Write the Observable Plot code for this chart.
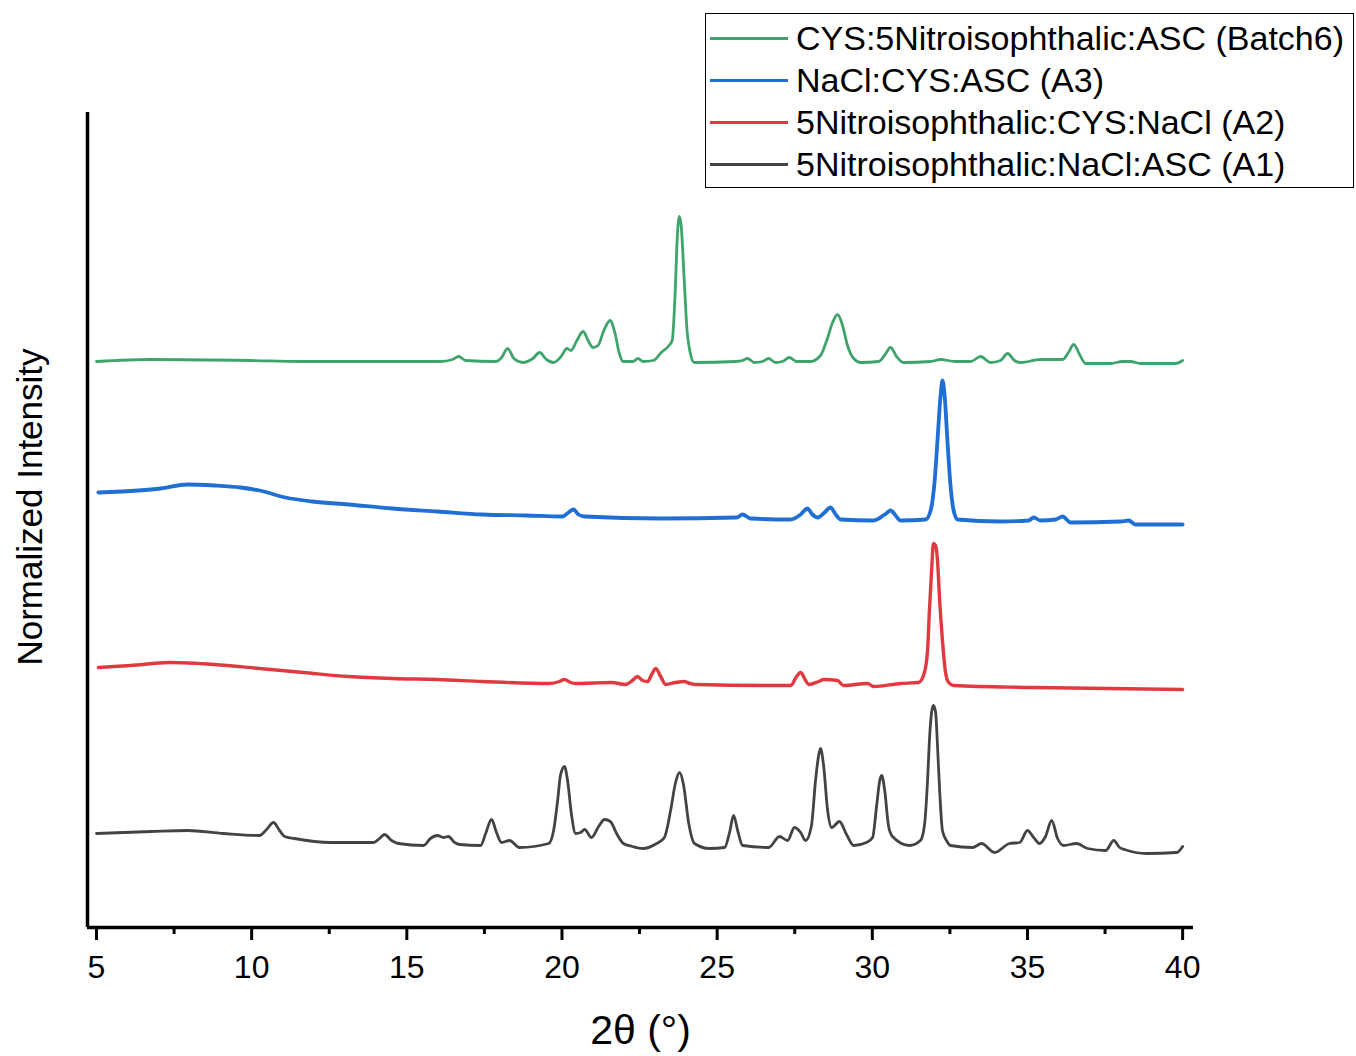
<!DOCTYPE html>
<html>
<head>
<meta charset="utf-8">
<script src="https://cdn.jsdelivr.net/npm/d3@7"></script>
<script src="https://cdn.jsdelivr.net/npm/@observablehq/plot@0.6"></script>
<style>
  html, body { margin: 0; padding: 0; background: #fff; }
  #wrap { position: relative; width: 1356px; height: 1056px; font-family: "Liberation Sans", Arial, sans-serif; }
  #legend { position: absolute; left: 705px; top: 13px; width: 649px; height: 175px; border: 1.5px solid #000; background: #fff; box-sizing: border-box; }
  .row { position: absolute; left: 4px; height: 42px; display: flex; align-items: center; }
  .sw { width: 78px; height: 0; border-top: 3px solid; margin-right: 8px; }
  .lab { font-size: 34px; color: #000; white-space: nowrap; }
</style>
</head>
<body>
<div id="wrap"><div id="chart"></div><div id="legend"></div></div>
<script>
// Series names (legend order, top to bottom)
const seriesNames = [
  "CYS:5Nitroisophthalic:ASC (Batch6)",
  "NaCl:CYS:ASC (A3)",
  "5Nitroisophthalic:CYS:NaCl (A2)",
  "5Nitroisophthalic:NaCl:ASC (A1)"
];
const seriesColors = ["#3fa46b", "#1f6fd4", "#e03a40", "#434343"];

// Stacked patterns: [2θ (°), intensity (a.u., offset included)]
const batch6 = [
  [5.0,566],[6.74,568],[9.96,567],[11.57,566],[16.09,566],[16.47,568],[16.67,571],[16.9,567],
  [17.87,566],[18.03,569],[18.25,579],[18.45,569],[18.74,565],[19.06,569],[19.28,575],[19.5,568],
  [19.73,565],[19.97,571],[20.16,579],[20.29,577],[20.48,587],[20.68,596],[20.84,587],[21.0,580],
  [21.16,582],[21.35,597],[21.55,607],[21.71,594],[21.84,575],[21.97,566],[22.29,566],[22.45,569],
  [22.61,566],[22.94,567],[23.2,575],[23.42,581],[23.55,587],[23.65,637],[23.71,687],[23.78,711],
  [23.84,702],[23.94,647],[24.03,597],[24.13,575],[24.26,565],[25.59,566],[25.82,567],[25.98,569],
  [26.2,565],[26.46,566],[26.66,569],[26.88,565],[27.1,566],[27.33,570],[27.56,566],[28.01,566],
  [28.33,572],[28.53,587],[28.72,605],[28.88,613],[29.04,602],[29.2,582],[29.4,569],[29.62,565],
  [30.2,566],[30.39,572],[30.59,580],[30.78,571],[31.0,565],[31.88,566],[32.2,568],[32.68,566],
  [33.17,566],[33.49,571],[33.81,565],[34.13,567],[34.36,574],[34.58,567],[34.78,565],[35.42,568],
  [36.13,568],[36.32,575],[36.49,583],[36.68,573],[36.87,564],[37.68,564],[38.06,566],[38.32,566],
  [38.64,564],[39.77,564],[40.0,567]
];
const a3 = [
  [5.06,435],[6.35,437],[7.06,439],[7.93,443],[8.8,442],[9.64,440],[10.25,437],[11.09,430],
  [11.96,426],[13.12,423],[14.54,419],[15.99,416],[17.44,413],[18.86,412],[20.02,411],[20.21,415],
  [20.37,418],[20.53,413],[20.73,411],[23.18,409],[25.63,410],[25.82,413],[26.08,409],[27.36,408],
  [27.69,413],[27.91,419],[28.07,413],[28.24,410],[28.46,415],[28.65,420],[28.82,413],[28.98,408],
  [30.04,407],[30.4,413],[30.59,417],[30.75,412],[30.91,407],[31.72,408],[31.88,417],[32.01,447],
  [32.1,487],[32.2,532],[32.26,547],[32.33,532],[32.42,487],[32.52,442],[32.62,417],[32.75,408],
  [34.13,406],[35.04,407],[35.2,410],[35.42,407],[35.91,408],[36.13,411],[36.39,405],[38.0,406],
  [38.26,407],[38.48,403],[40.0,403]
];
const a2 = [
  [5.06,260],[6.1,262],[7.35,265],[8.8,263],[10.25,259],[11.67,255],[13.12,251],[14.54,249],
  [15.99,248],[17.44,246],[19.6,244],[19.92,246],[20.08,248],[20.28,245],[20.44,244],[21.6,245],
  [22.05,243],[22.27,247],[22.43,251],[22.6,247],[22.76,246],[22.89,253],[23.02,259],[23.18,251],
  [23.34,243],[23.66,245],[23.92,246],[24.14,244],[24.34,243],[27.04,242],[27.37,242],[27.56,251],
  [27.69,255],[27.85,247],[27.95,243],[28.27,246],[28.43,248],[28.88,247],[29.07,242],[29.85,244],
  [30.04,241],[30.91,244],[31.49,245],[31.68,255],[31.78,277],[31.84,317],[31.91,357],[31.97,384],
  [32.04,382],[32.1,367],[32.17,327],[32.26,287],[32.36,255],[32.46,245],[32.62,242],[35.2,240],
  [40.0,238]
];
const a1 = [
  [5.0,94],[6.77,96],[7.93,97],[9.09,94],[10.25,92],[10.48,98],[10.7,105],[10.9,97],[11.06,91],
  [11.38,89],[12.54,85],[13.93,85],[14.12,89],[14.28,93],[14.51,87],[14.73,84],[15.54,82],[15.76,89],
  [15.99,92],[16.18,90],[16.34,91],[16.54,85],[16.7,83],[17.38,82],[17.54,94],[17.73,108],[17.89,95],
  [18.05,85],[18.31,87],[18.63,80],[19.57,84],[19.73,97],[19.86,127],[19.95,152],[20.08,161],
  [20.18,147],[20.31,112],[20.44,94],[20.6,95],[20.73,98],[20.95,90],[21.18,101],[21.37,108],
  [21.56,106],[21.76,94],[21.98,84],[22.27,81],[22.6,79],[23.05,84],[23.3,90],[23.5,117],[23.66,145],
  [23.79,155],[23.92,142],[24.08,105],[24.27,84],[24.75,79],[25.24,80],[25.4,95],[25.53,112],
  [25.66,97],[25.82,82],[26.66,80],[27.01,91],[27.27,87],[27.49,100],[27.69,95],[27.85,87],
  [28.04,102],[28.17,147],[28.27,172],[28.33,179],[28.43,162],[28.56,117],[28.69,100],[28.94,106],
  [29.17,93],[29.4,82],[29.81,85],[30.01,90],[30.14,122],[30.24,147],[30.3,152],[30.4,137],
  [30.52,102],[30.65,91],[31.2,82],[31.55,87],[31.68,102],[31.78,147],[31.84,187],[31.91,215],
  [31.97,222],[32.04,215],[32.1,182],[32.17,137],[32.26,97],[32.39,87],[32.52,82],[33.23,80],
  [33.52,84],[33.94,75],[34.42,84],[34.75,85],[35.0,97],[35.2,90],[35.39,84],[35.58,91],[35.78,107],
  [35.97,89],[36.16,82],[36.58,84],[36.94,79],[37.52,77],[37.78,87],[37.97,80],[38.13,78],
  [38.84,74],[39.81,75],[40.0,81]
];

const majorTicks = [5, 10, 15, 20, 25, 30, 35, 40];
const minorTicks = [7.5, 12.5, 17.5, 22.5, 27.5, 32.5, 37.5];
const xTitle = "2θ (°)";
const yTitle = "Normalized Intensity";

const patterns = [batch6, a3, a2, a1];
const rows = patterns.flatMap((arr, i) => arr.map(([x, y]) => ({x, y, s: seriesNames[i]})));
const widths = [2.8, 3.8, 3.4, 2.8];

const xDomain = [4.71, 40.35];

const chart = Plot.plot({
  width: 1356,
  height: 1056,
  marginLeft: 87,
  marginRight: 163,
  marginTop: 112,
  marginBottom: 129,
  style: {fontFamily: "'Liberation Sans', Arial, sans-serif", color: "#000", background: "#fff"},
  x: {domain: xDomain},
  y: {domain: [0, 815], axis: null},
  color: {domain: seriesNames, range: seriesColors},
  marks: [
    ...patterns.map((arr, i) => Plot.line(rows.filter(d => d.s === seriesNames[i]), {
      x: "x", y: "y", stroke: "s", strokeWidth: widths[i], strokeLinejoin: "round", curve: "monotone-x"
    })),
    Plot.axisX({ticks: majorTicks, tickSize: 13, tickPadding: 15, strokeWidth: 3, fontSize: 32, tickFormat: d => String(d), label: null}),
    Plot.axisX({ticks: minorTicks, tickSize: 7, strokeWidth: 3, tickFormat: () => "", label: null}),
    Plot.ruleY([0], {stroke: "#000", strokeWidth: 3.5}),
    Plot.ruleX([xDomain[0]], {stroke: "#000", strokeWidth: 3.5}),
    Plot.text([xTitle], {frameAnchor: "bottom", lineAnchor: "middle", textAnchor: "middle", dy: 103, fontSize: 41, fill: "#000"}),
    Plot.text([yTitle], {frameAnchor: "left", textAnchor: "middle", lineAnchor: "middle", dx: -57, dy: -13, rotate: -90, fontSize: 35, fill: "#000"})
  ]
});
document.getElementById("chart").appendChild(chart);

const legend = document.getElementById("legend");
seriesNames.forEach((name, i) => {
  const row = document.createElement("div");
  row.className = "row";
  row.style.top = (3 + i * 42) + "px";
  row.innerHTML = `<div class="sw" style="border-color:${seriesColors[i]}"></div><div class="lab">${name}</div>`;
  legend.appendChild(row);
});
</script>
</body>
</html>
